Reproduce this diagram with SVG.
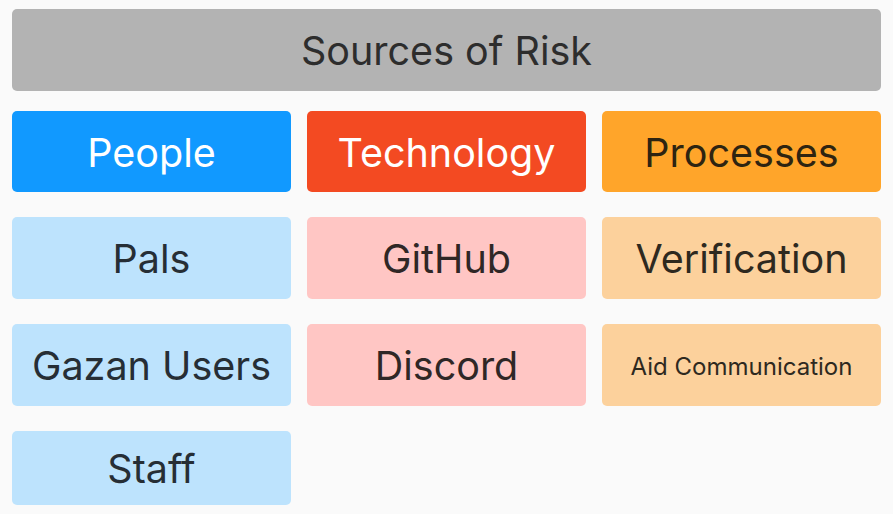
<svg xmlns="http://www.w3.org/2000/svg" width="893" height="514" viewBox="0 0 893 514">
<style>
text{font-family:Inter,"Noto Sans","Liberation Sans",sans-serif;text-anchor:middle;dominant-baseline:central;font-size:39.5px}
.title rect{fill:#b3b3b3}
.title text{fill:#2d2d2d}
.hp rect{fill:#1199ff}.hp text{fill:#ffffff}
.ht rect{fill:#f34a22}.ht text{fill:#ffffff}
.hr rect{fill:#ffa52a}.hr text{fill:#2e2411}
.p rect{fill:#bde3fd}.p text{fill:#262e35}
.t rect{fill:#ffc6c4}.t text{fill:#2f2726}
.r rect{fill:#fcd19c}.r text{fill:#2e291f}
</style>
<rect width="893" height="514" fill="#fafafa"/>
<g id="title" class="title"><rect x="12" y="9" width="869" height="82" rx="5"/><text x="446.5" y="51">Sources of Risk</text></g>
<g id="people" class="hp"><rect x="12" y="111" width="279" height="81" rx="5"/><text x="151.5" y="153">People</text></g>
<g id="technology" class="ht"><rect x="307" y="111" width="279" height="81" rx="5"/><text x="446.5" y="153">Technology</text></g>
<g id="processes" class="hr"><rect x="602" y="111" width="279" height="81" rx="5"/><text x="741.5" y="153">Processes</text></g>
<g id="pals" class="p"><rect x="12" y="217" width="279" height="82" rx="5"/><text x="151.5" y="259">Pals</text></g>
<g id="github" class="t"><rect x="307" y="217" width="279" height="82" rx="5"/><text x="446.5" y="259">GitHub</text></g>
<g id="verification" class="r"><rect x="602" y="217" width="279" height="82" rx="5"/><text x="741.5" y="259">Verification</text></g>
<g id="gazan" class="p"><rect x="12" y="324" width="279" height="82" rx="5"/><text x="151.5" y="366">Gazan Users</text></g>
<g id="discord" class="t"><rect x="307" y="324" width="279" height="82" rx="5"/><text x="446.5" y="366">Discord</text></g>
<g id="aid" class="r"><rect x="602" y="324" width="279" height="82" rx="5"/><text x="741.5" y="366" style="font-size:24px">Aid Communication</text></g>
<g id="staff" class="p"><rect x="12" y="431" width="279" height="74" rx="5"/><text x="151.5" y="469">Staff</text></g>
<g id="connectors"></g>
</svg>
